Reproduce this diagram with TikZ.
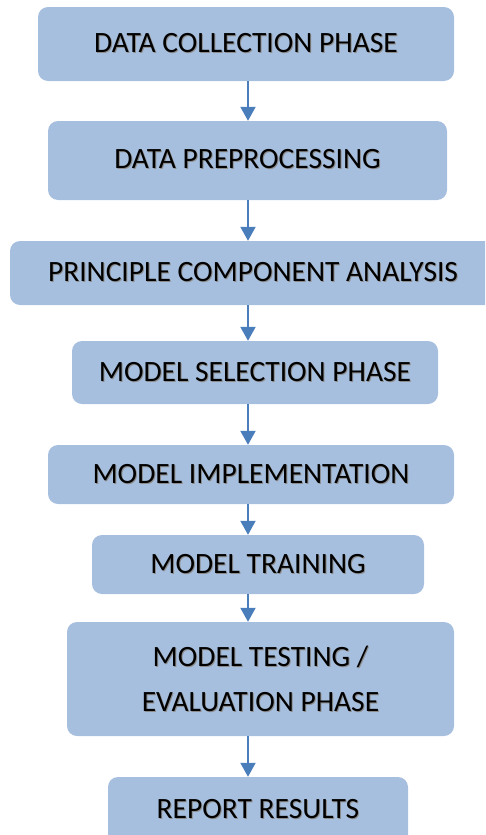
\documentclass[tikz,border=0pt]{standalone}
\usepackage{fontspec}
\setmainfont{Carlito}
\usetikzlibrary{arrows.meta}
\definecolor{boxfill}{HTML}{A7BFDE}
\definecolor{flowline}{HTML}{4A7EBB}
\tikzset{
  stage/.style={fill=boxfill, draw=none, rounded corners=10pt, inner sep=0pt,
    align=center, font=\fontsize{29.5}{45}\selectfont, text=black},
  flow/.style={draw=flowline, line width=2pt,
    -{Triangle[width=15pt,length=14pt]}},
}
% one line of text with a soft grey drop shadow behind it
\newcommand{\shadowed}[1]{\leavevmode
  \rlap{\kern1pt\raisebox{-1pt}{\textcolor{black!45}{#1}}}#1}
% place a stage box by its corners (left, top, right, bottom) in pixel units
\newcommand{\stagebox}[6]{%
  \node[stage, minimum width={#4-#2}, minimum height={#5-#3}]
    (#1) at ({(#2+#4)/2},{(#3+#5)/2}) {#6};}
\begin{document}
\begin{tikzpicture}[x=1pt, y=-1pt]
  \useasboundingbox (0,0) rectangle (485,835);
  \clip (0,0) rectangle (485,835);
  \stagebox{s1}{38}{7}{454}{81}{\raisebox{1pt}{\shadowed{DATA COLLECTION PHASE}}}
  \stagebox{s2}{48}{121}{447}{200}{\raisebox{4pt}{\shadowed{DATA PREPROCESSING}}}
  \stagebox{s3}{10}{241}{500}{305}{\hspace*{-4pt}\shadowed{PRINCIPLE COMPONENT ANALYSIS}}
  \stagebox{s4}{72}{341}{438}{404}{\shadowed{MODEL SELECTION PHASE}}
  \stagebox{s5}{48}{445}{454}{504}{\raisebox{-2pt}{\shadowed{MODEL IMPLEMENTATION}}}
  \stagebox{s6}{92}{535}{424}{594}{\raisebox{-2pt}{\shadowed{MODEL TRAINING}}}
  \stagebox{s7}{67}{622}{454}{736}{\shadowed{MODEL TESTING /}\\\shadowed{EVALUATION PHASE}}
  \stagebox{s8}{108}{777}{408}{845}{\raisebox{5pt}{\shadowed{REPORT RESULTS}}}
  \foreach \a/\b in {s1/s2,s2/s3,s3/s4,s4/s5,s5/s6,s6/s7,s7/s8}
    \draw[flow] (248,0 |- \a.south) -- (248,0 |- \b.north);
\end{tikzpicture}
\end{document}
